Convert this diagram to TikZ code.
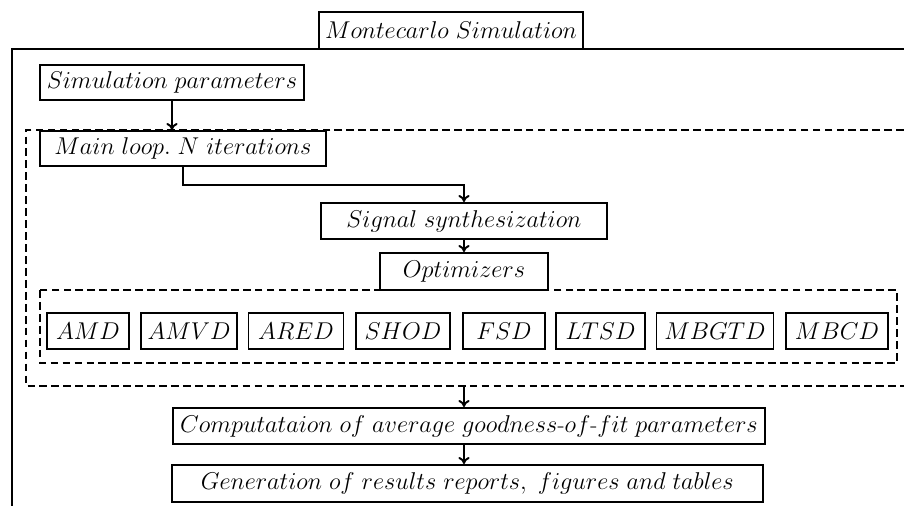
\documentclass[tikz,border=0pt]{standalone}
\usepackage{tikz}
\usepackage{amsmath}
\usetikzlibrary{arrows.meta}

\tikzset{
  box/.style 2 args={draw, line width=1.4pt, fill=white, inner sep=0pt,
    minimum width={#1*0.025cm}, minimum height={#2*0.025cm},
    font=\fontsize{16.5}{20}\selectfont},
  frame/.style={line width=1.4pt, dash pattern=on 5.5pt off 3pt},
  link/.style={line width=1.4pt, -{To[length=5pt,width=8pt]}}
}

\begin{document}
\begin{tikzpicture}[x=0.025cm, y=-0.025cm]
                    \useasboundingbox (0,0) rectangle (904,506);

                    % Outer frame
                    \draw[line width=1.4pt] (12,506) -- (12,49) -- (904,49);
                    \node[box={264}{37}] (title) at (451,30.5) {$Montecarlo\ Simulation$};

                    % Main loop frame
                    \draw[frame] (904,130) -- (26,130) -- (26,386) -- (904,386);
                    \coordinate (loopbot) at (464,386);

                    % Optimizer frame
                    \draw[frame] (40,290) rectangle (897,363);

                    % Steps
                    \node[box={264}{35}] (simpar) at (172,82.5) {$Simulation\ parameters$};
                    \node[box={286}{35}] (mainloop) at (183,148.5) {$Main\ loop.\ N\ iterations$};
                    \node[box={286}{36}] (signal) at (464,221) {$Signal\ synthesization$};
                    \node[box={168}{37}] (optim) at (464,271.5) {$Optimizers$};
                    \node[box={592}{36}] (comp) at (469,426) {$Computataion\ of\ average\ goodness\mbox{-}of\mbox{-}fit\ parameters$};
                    \node[box={591}{37}] (gen) at (467.5,483.5) {$Generation\ of\ results\ reports,\ figures\ and\ tables$};

                    % Optimizers
                    \node[box={82}{36}] (amd) at (88,331) {$AMD$};
                    \node[box={96}{36}] (amvd) at (189,331) {$AMVD$};
                    \node[box={95}{36}] (ared) at (296,331) {$ARED$};
                    \node[box={94}{36}] (shod) at (403,331) {$SHOD$};
                    \node[box={82}{36}] (fsd) at (504,331) {$FSD$};
                    \node[box={89}{36}] (ltsd) at (600.5,331) {$LTSD$};
                    \node[box={117}{36}] (mbgtd) at (715,331) {$MBGTD$};
                    \node[box={102}{36}] (mbcd) at (837,331) {$MBCD$};

                    % Connections
                    \draw[link] (simpar.south) -- (simpar.south |- mainloop.north);
                    \draw[link] (mainloop.south) -- ++(0,18) -| (signal.north);
                    \draw[link] (signal) -- (optim);
                    \draw[link] (loopbot) -- (loopbot |- comp.north);
                    \draw[link] (loopbot |- comp.south) -- (loopbot |- gen.north);
                \end{tikzpicture}
\end{document}
